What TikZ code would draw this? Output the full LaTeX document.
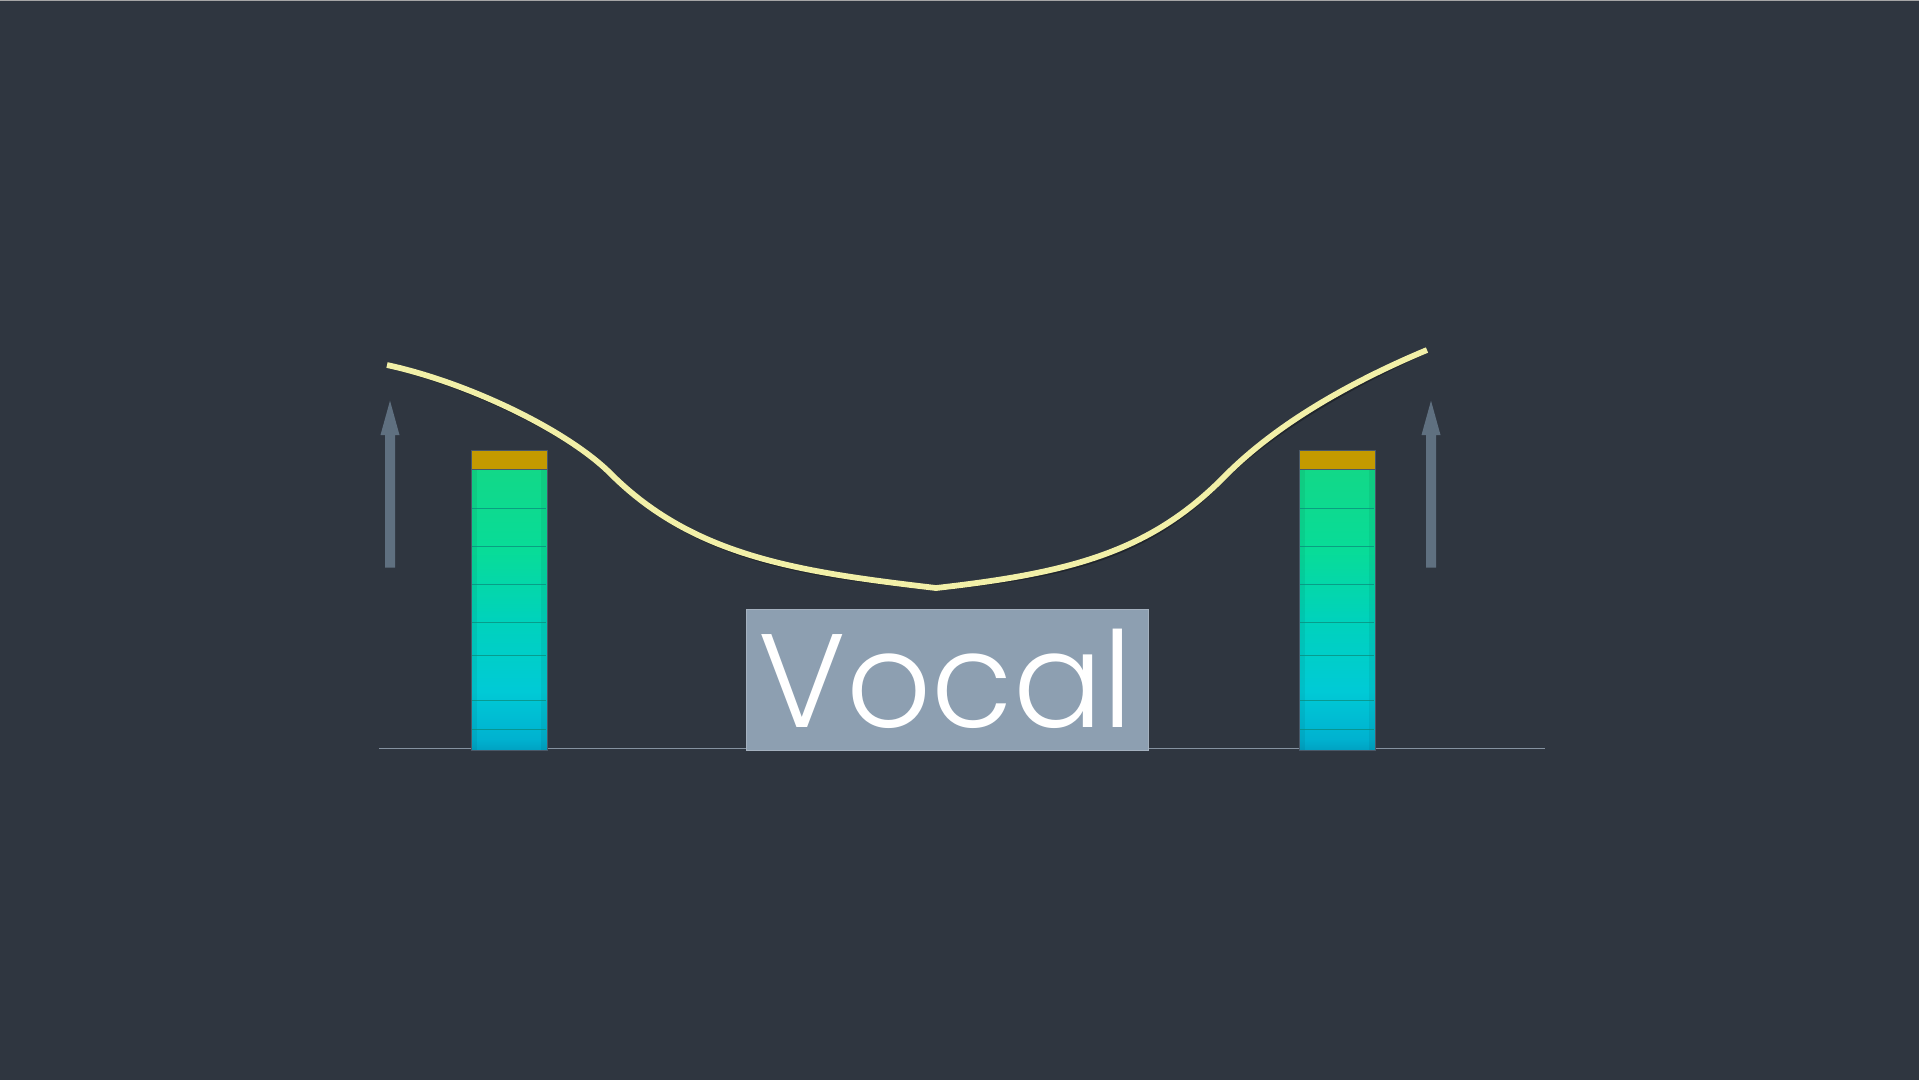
\documentclass[tikz,border=0pt]{standalone}
\usepackage{fontspec}
\IfFontExistsTF{Poppins Light}{\newfontfamily\vocalfont{Poppins Light}}{\newfontfamily\vocalfont{Poppins}}
\definecolor{bg}{HTML}{2F3640}
\definecolor{curvec}{HTML}{F2F0A8}
\definecolor{arrowc}{HTML}{5F7080}
\definecolor{barorange}{HTML}{C49A00}
\definecolor{mA}{HTML}{12D888}
\definecolor{mB}{HTML}{08DC98}
\definecolor{mC}{HTML}{00D2BC}
\definecolor{mD}{HTML}{00CAD6}
\definecolor{mE}{HTML}{00B2D0}
\definecolor{mF}{HTML}{00A2C2}
\definecolor{segline}{HTML}{0A8C7C}
\definecolor{barframe}{HTML}{4A5868}
\definecolor{boxfill}{HTML}{8D9FB1}
\definecolor{boxframe}{HTML}{A4B1BF}
\definecolor{baselinec}{HTML}{8592A0}
\pgfdeclareverticalshading{metershade}{100bp}{color(0bp)=(mF); color(25bp)=(mF); color(27bp)=(mE); color(35.5bp)=(mD); color(48bp)=(mC); color(60.5bp)=(mB); color(75bp)=(mA); color(100bp)=(mA)}
\tikzset{
  meterbar/.style={draw=barframe, line width=0.8pt, shading=metershade},
  meterpeak/.style={fill=barorange, draw=barframe, line width=0.6pt},
  meterseg/.style={draw=segline, line width=0.9pt, opacity=0.75},
  uparrow/.style={fill=arrowc},
  eqcurve/.style={draw=curvec, line width=5.8pt, line join=round},
  eqshadow/.style={draw=black, opacity=0.3, line width=5.8pt, line join=round},
}
\begin{document}
\begin{tikzpicture}[x=1pt,y=-1pt]
\useasboundingbox (0,0) rectangle (1919,1080);
\fill[bg] (0,0) rectangle (1919,1080);
\draw[gray!70, line width=1pt] (0,0.5) -- (1919,0.5);
% baseline
\coordinate (bl0) at (379,748.5);
\coordinate (bl1) at (1545,748.5);
\draw[draw=baselinec, line width=1.3pt] (bl0) -- (bl1);
% meter bars
\foreach \xa/\xb in {471/547, 1299/1375}{
  \path[meterbar] (\xa,469) rectangle (\xb,750);
  \fill[black, opacity=0.06] (\xa,469) rectangle (\xa+6,750);
  \fill[black, opacity=0.06] (\xb-6,469) rectangle (\xb,750);
  \foreach \yy in {508.3,546.7,584.7,622.3,655,700,729}{
    \draw[meterseg] (\xa+1,\yy) -- (\xb-1,\yy);
  }
  \draw[barframe, line width=0.8pt] (\xa,469) rectangle (\xb,750);
  \path[meterpeak] (\xa,450) rectangle (\xb,469);
}
% arrows
\foreach \cx in {390,1431}{
  \fill[uparrow] (\cx-5,567.7) -- (\cx-5,435) -- (\cx-9.5,435) -- (\cx,400.7) -- (\cx+9.5,435) -- (\cx+5,435) -- (\cx+5,567.7) -- cycle;
}
% curve
\coordinate (c0) at (387,365);
\coordinate (c1) at (612,475);
\coordinate (c2) at (936,588);
\coordinate (c3) at (1224,477);
\coordinate (c4) at (1427,350);
\foreach \st/\dx in {eqshadow/2, eqcurve/0}{
  \draw[\st, shift={(\dx,\dx)}] (c0) .. controls (470,383) and (570,432) .. (c1)
     .. controls (695,557) and (800,572) .. (c2)
     .. controls (1070,573) and (1150,552) .. (c3)
     .. controls (1280,420) and (1360,378) .. (c4);
}
% vocal box
\node[draw=boxframe, line width=1.5pt, fill=boxfill, minimum width=402pt, minimum height=141pt, inner sep=0pt] (vbox) at (947.6,680.2) {};
\node[anchor=base, text=white, font=\vocalfont\fontsize{133}{133}\selectfont, inner sep=0pt] (vtext) at (946,727) {Vocal};
\end{tikzpicture}
\end{document}
